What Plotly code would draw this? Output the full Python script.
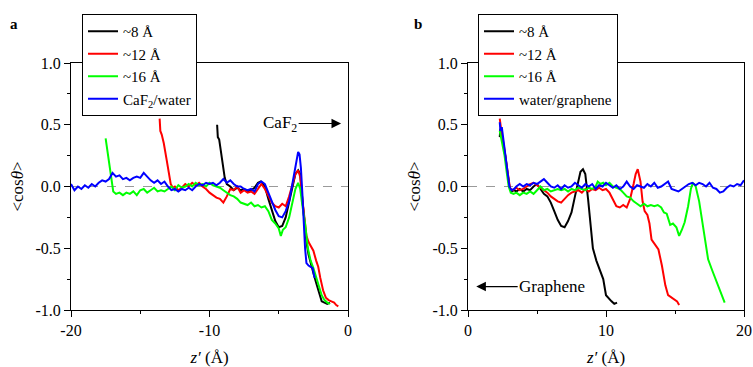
import plotly.graph_objects as go

# ---------------- Panel a (CaF2) ----------------
a_blue_x = [-20.0, -19.75, -19.5, -19.25, -19.0, -18.75, -18.5, -18.25, -18.0, -17.75, -17.5, -17.25, -17.0,
            -16.75, -16.5, -16.25, -16.0, -15.75, -15.5, -15.25, -15.0, -14.75, -14.5, -14.25, -14.0, -13.75,
            -13.5, -13.25, -13.0, -12.75, -12.5, -12.25, -12.0, -11.75, -11.5, -11.25, -11.0, -10.75, -10.5,
            -10.25, -10.0, -9.75, -9.5, -9.25, -9.0, -8.75, -8.5, -8.25, -8.0, -7.75, -7.5, -7.25, -7.0, -6.75,
            -6.5, -6.25, -6.0, -5.75, -5.5, -5.25, -5.0, -4.75, -4.5, -4.25, -4.05, -3.85, -3.7, -3.6, -3.5,
            -3.4, -3.3, -3.2, -3.1, -3.0, -2.85, -2.7, -2.55, -2.45, -2.4]
a_blue_y = [0.02, -0.03, 0.0, -0.02, 0.01, -0.01, 0.02, 0.0, 0.03, 0.05, 0.04, 0.06, 0.11,
            0.08, 0.09, 0.06, 0.07, 0.05, 0.07, 0.08, 0.07, 0.11, 0.08, 0.05, 0.03, 0.05,
            0.02, 0.04, 0.0, -0.03, -0.02, -0.04, -0.02, -0.03, -0.01, -0.03, 0.0, 0.02, 0.01,
            0.03, 0.02, 0.03, 0.01, 0.03, 0.06, 0.03, 0.05, 0.02, 0.0, 0.0, -0.02, -0.03, -0.02, -0.04,
            0.02, 0.04, 0.02, -0.05, -0.12, -0.19, -0.24, -0.25, -0.2, -0.12, 0.0, 0.12, 0.24, 0.28, 0.26,
            0.15, -0.05, -0.3, -0.5, -0.62, -0.64, -0.65, -0.66, -0.72, -0.74]

a_black_x = [-9.45, -9.45, -9.4, -9.3, -9.2, -9.1, -9.0, -8.9, -8.75, -8.5, -8.25, -8.0, -7.75, -7.5, -7.25,
             -7.0, -6.75, -6.5, -6.3, -6.0, -5.75, -5.5, -5.25, -5.0, -4.75, -4.5, -4.25, -4.0, -3.8, -3.6,
             -3.45, -3.3, -3.15, -3.0, -2.85, -2.7, -2.5, -2.3, -2.1, -1.9, -1.7, -1.5, -1.3]
a_black_y = [0.5, 0.45, 0.40, 0.38, 0.3, 0.22, 0.15, 0.07, 0.02, 0.0, -0.03, -0.01, -0.03, -0.02, -0.04,
             -0.03, -0.01, 0.03, 0.04, 0.0, -0.1, -0.2, -0.28, -0.33, -0.32, -0.25, -0.12, 0.0, 0.1, 0.13,
             0.1, -0.1, -0.3, -0.45, -0.55, -0.62, -0.7, -0.78, -0.86, -0.93, -0.94, -0.95, -0.94]

a_red_x = [-13.6, -13.55, -13.45, -13.3, -13.1, -12.95, -12.8, -12.65, -12.5, -12.25, -12.0, -11.75, -11.5,
           -11.25, -11.0, -10.75, -10.5, -10.25, -10.0, -9.75, -9.5, -9.25, -9.0, -8.75, -8.5, -8.25, -8.0,
           -7.75, -7.5, -7.25, -7.0, -6.75, -6.5, -6.25, -6.0, -5.75, -5.5, -5.25, -5.0, -4.75, -4.5, -4.25,
           -4.0, -3.8, -3.6, -3.45, -3.3, -3.15, -3.0, -2.85, -2.7, -2.5, -2.3, -2.15, -2.0, -1.8, -1.6, -1.4,
           -1.2, -1.0, -0.85, -0.7]
a_red_y = [0.55, 0.45, 0.42, 0.35, 0.22, 0.1, 0.02, -0.01, 0.0, -0.03, -0.01, 0.02, 0.0,
           0.03, 0.01, 0.03, 0.0, -0.02, -0.05, -0.07, -0.09, -0.1, -0.13, -0.08, -0.02, -0.03, 0.0,
           -0.05, -0.03, -0.05, -0.04, -0.06, -0.02, 0.02, -0.02, -0.08, -0.13, -0.16, -0.17, -0.14, -0.16, -0.08,
           0.02, 0.1, 0.13, 0.08, -0.1, -0.25, -0.4, -0.45, -0.48, -0.52, -0.6, -0.65, -0.74, -0.84, -0.9, -0.92,
           -0.93, -0.94, -0.96, -0.97]

a_green_x = [-17.5, -17.45, -17.35, -17.25, -17.15, -17.05, -16.95, -16.75, -16.5, -16.25, -16.0, -15.75,
             -15.5, -15.25, -15.0, -14.75, -14.5, -14.25, -14.0, -13.75, -13.5, -13.25, -13.0, -12.75, -12.5,
             -12.25, -12.0, -11.75, -11.5, -11.25, -11.0, -10.75, -10.5, -10.25, -10.0, -9.75, -9.5, -9.25,
             -9.0, -8.75, -8.5, -8.25, -8.0, -7.75, -7.5, -7.25, -7.0, -6.75, -6.5, -6.25, -6.0, -5.75, -5.5,
             -5.25, -5.0, -4.85, -4.7, -4.5, -4.25, -4.0, -3.8, -3.6, -3.45, -3.3, -3.1, -2.9, -2.7, -2.5, -2.3,
             -2.1, -1.9, -1.7, -1.5, -1.3]
a_green_y = [0.39, 0.35, 0.3, 0.2, 0.12, 0.02, -0.04, -0.06, -0.05, -0.07, -0.05, -0.06,
             -0.04, -0.07, -0.03, -0.02, -0.05, -0.03, -0.01, -0.04, -0.03, -0.04, -0.02, 0.0, -0.03,
             0.01, -0.01, 0.0, 0.02, 0.0, 0.03, 0.01, 0.02, 0.0, 0.03, 0.01, 0.0, -0.01,
             -0.03, -0.05, -0.07, -0.08, -0.1, -0.13, -0.14, -0.15, -0.13, -0.16, -0.15, -0.17, -0.16, -0.2, -0.27,
             -0.3, -0.34, -0.4, -0.35, -0.33, -0.25, -0.12, -0.02, 0.03, -0.02, -0.15, -0.3, -0.5, -0.6, -0.66, -0.74,
             -0.82, -0.88, -0.92, -0.94, -0.95]

# ---------------- Panel b (graphene) ----------------
b_black_x = [2.3, 2.35, 2.45, 2.55, 2.7, 2.85, 3.0, 3.15, 3.35, 3.5, 3.75, 4.0, 4.25, 4.5, 4.75, 5.0, 5.25,
             5.5, 5.75, 6.0, 6.25, 6.5, 6.75, 7.0, 7.25, 7.5, 7.75, 8.0, 8.15, 8.33, 8.5, 8.7, 8.85, 9.05, 9.3,
             9.55, 9.8, 10.0, 10.2, 10.4, 10.6, 10.8]
b_black_y = [0.4, 0.47, 0.4, 0.35, 0.25, 0.12, 0.0, -0.04, -0.03, -0.04, -0.02, -0.04, -0.02, -0.03, 0.0, 0.02, -0.02,
             -0.06, -0.08, -0.13, -0.2, -0.27, -0.32, -0.33, -0.28, -0.21, -0.08, 0.06, 0.12, 0.14, 0.1, -0.1, -0.3, -0.5, -0.6,
             -0.68, -0.75, -0.88, -0.91, -0.93, -0.95, -0.94]

b_red_x = [2.3, 2.35, 2.45, 2.6, 2.75, 2.9, 3.05, 3.25, 3.5, 3.75, 4.0, 4.25, 4.5, 4.75, 5.0, 5.25, 5.5,
           5.75, 6.0, 6.25, 6.5, 6.75, 7.0, 7.25, 7.5, 7.75, 8.0, 8.25, 8.5, 8.75, 9.0, 9.25, 9.5, 9.75,
           10.0, 10.25, 10.5, 10.75, 11.0, 11.25, 11.5, 11.75, 12.0, 12.15, 12.3, 12.5, 12.65, 12.8, 13.0,
           13.15, 13.3, 13.55, 13.8, 14.05, 14.3, 14.5, 14.75, 15.0, 15.15, 15.3]
b_red_y = [0.55, 0.5, 0.42, 0.33, 0.2, 0.08, -0.02, -0.03, -0.01, -0.03, -0.02, 0.0, 0.02, 0.03, 0.01, -0.01, -0.03,
           -0.05, -0.08, -0.1, -0.12, -0.13, -0.1, -0.07, -0.05, -0.04, -0.03, -0.05, -0.02, -0.04, -0.02, -0.03, -0.01, -0.03,
           -0.02, -0.05, -0.1, -0.16, -0.17, -0.15, -0.17, -0.1, 0.02, 0.1, 0.14, 0.04, -0.12, -0.2, -0.23,
           -0.3, -0.43, -0.47, -0.51, -0.64, -0.8, -0.88, -0.9, -0.92, -0.93, -0.96]

b_green_x = [2.3, 2.4, 2.5, 2.65, 2.8, 2.95, 3.1, 3.3, 3.5, 3.75, 4.0, 4.25, 4.5, 4.75, 5.0, 5.25, 5.5, 5.75,
             6.0, 6.25, 6.5, 6.75, 7.0, 7.25, 7.5, 7.75, 8.0, 8.25, 8.5, 8.75, 9.0, 9.25, 9.4, 9.6, 9.8, 10.0,
             10.25, 10.5, 10.75, 11.0, 11.25, 11.5, 11.75, 12.0, 12.25, 12.5, 12.75, 13.0, 13.25, 13.5, 13.75,
             14.0, 14.2, 14.4, 14.65, 14.85, 15.1, 15.3, 15.5, 15.7, 15.95, 16.15, 16.3, 16.5, 16.75, 17.0, 17.2,
             17.4, 17.7, 18.0, 18.25, 18.5, 18.6]
b_green_y = [0.45, 0.4, 0.35, 0.25, 0.12, 0.0, -0.05, -0.06, -0.05, -0.07, -0.05, -0.06, -0.04, -0.06, -0.03, 0.0, -0.03, -0.02,
             -0.04, -0.03, -0.02, -0.03, -0.02, -0.04, -0.02, -0.03, -0.01, -0.02, -0.03, -0.01, -0.02, 0.0, 0.04, 0.02, 0.03, 0.01,
             0.03, 0.0, -0.01, -0.02, -0.05, -0.08, -0.09, -0.12, -0.14, -0.16, -0.14, -0.16, -0.15, -0.16, -0.15,
             -0.17, -0.21, -0.22, -0.31, -0.3, -0.33, -0.4, -0.35, -0.29, -0.16, -0.02, 0.03, 0.0, -0.12, -0.29, -0.45,
             -0.59, -0.68, -0.77, -0.85, -0.91, -0.94]

b_blue_x = [2.3, 2.35, 2.45, 2.55, 2.7, 2.85, 3.0, 3.15, 3.35, 3.5, 3.75, 4.0, 4.25, 4.5, 4.75, 5.0, 5.25,
            5.5, 5.75, 6.0, 6.25, 6.5, 6.75, 7.0, 7.25, 7.5, 7.75, 8.0, 8.25, 8.5, 8.75, 9.0, 9.25, 9.5,
            9.75, 10.0, 10.25, 10.5, 10.75, 11.0, 11.25, 11.5, 11.75, 12.0, 12.25, 12.5, 12.75, 13.0, 13.25,
            13.5, 13.75, 14.0, 14.25, 14.5, 14.75, 15.0, 15.25, 15.5, 15.75, 16.0, 16.25, 16.5, 16.75, 17.0,
            17.25, 17.5, 17.75, 18.0, 18.25, 18.5, 18.75, 19.0, 19.25, 19.5, 19.75, 20.0]
b_blue_y = [0.52, 0.45, 0.48, 0.4, 0.28, 0.12, 0.0, -0.03, -0.02, 0.0, 0.02, 0.0, 0.02, 0.01, 0.03, 0.02, 0.04,
            0.06, 0.03, 0.0, -0.01, 0.01, -0.02, 0.01, -0.01, 0.0, 0.03, 0.01, -0.01, 0.02, 0.0, 0.02, -0.02, 0.01,
            0.0, 0.03, 0.01, -0.01, 0.01, -0.02, 0.0, 0.04, 0.0, -0.02, 0.01, 0.0, -0.01, 0.02, 0.0,
            0.03, -0.01, 0.0, 0.02, 0.04, -0.02, -0.03, -0.04, -0.02, 0.0, 0.02, 0.03, 0.01, 0.03, 0.02,
            0.0, 0.03, -0.01, -0.02, -0.05, -0.04, -0.01, 0.01, 0.0, 0.02, 0.01, 0.05]

legend_a = ["~8 Å", "~12 Å", "~16 Å", "CaF<sub>2</sub>/water"]
legend_b = ["~8 Å", "~12 Å", "~16 Å", "water/graphene"]
colors = ["#000000", "#ff0000", "#00ff00", "#0000ff"]

y_tickvals = [-1.0, -0.5, 0.0, 0.5, 1.0]
y_ticktext = ["-1.0", "-0.5", "0.0", "0.5", "1.0"]
xa_tickvals = [-20, -10, 0]
xa_ticktext = ["-20", "-10", "0"]
xb_tickvals = [0, 10, 20]
xb_ticktext = ["0", "10", "20"]

FONT = "Liberation Serif"
W, H = 753, 367

fig = go.Figure()

a_series = [(a_black_x, a_black_y), (a_red_x, a_red_y), (a_green_x, a_green_y), (a_blue_x, a_blue_y)]
b_series = [(b_black_x, b_black_y), (b_red_x, b_red_y), (b_green_x, b_green_y), (b_blue_x, b_blue_y)]

for (xs, ys), name, c in zip(a_series, legend_a, colors):
    fig.add_trace(go.Scatter(x=xs, y=ys, mode="lines", name=name, line=dict(color=c, width=2),
                             xaxis="x", yaxis="y", legend="legend"))
for (xs, ys), name, c in zip(b_series, legend_b, colors):
    fig.add_trace(go.Scatter(x=xs, y=ys, mode="lines", name=name, line=dict(color=c, width=2),
                             xaxis="x2", yaxis="y2", legend="legend2"))

def px_x(p):
    return p / W

def px_y(p):
    return 1 - p / H

common_axis = dict(showline=True, linecolor="black", linewidth=1, mirror=True, showgrid=False,
                   zeroline=False, ticks="outside", ticklen=6, tickwidth=1, tickcolor="black",
                   automargin=False,
                   tickfont=dict(family=FONT, size=16, color="black"))
minor_x = dict(dtick=5, ticklen=3, ticks="outside", tickcolor="black")
minor_y = dict(dtick=0.25, ticklen=3, ticks="outside", tickcolor="black")
xtitle = dict(text="<i>z′</i> (Å)", font=dict(family=FONT, size=17, color="black"), standoff=14)
ytitle = dict(text="&lt;cos<i>θ</i>&gt;", font=dict(family=FONT, size=17, color="black"), standoff=7)

legend_common = dict(xanchor="left", yanchor="top", bgcolor="white",
                     bordercolor="black", borderwidth=1, font=dict(family=FONT, size=15, color="black"),
                     itemwidth=30, tracegroupgap=0)

fig.update_layout(
    width=W, height=H, margin=dict(l=0, r=0, t=0, b=0, autoexpand=False),
    paper_bgcolor="white", plot_bgcolor="white",
    font=dict(family=FONT, color="black"),
    xaxis=dict(domain=[px_x(71), px_x(348)], range=[-20, 0], anchor="y",
               tickvals=xa_tickvals, ticktext=xa_ticktext, minor=minor_x, title=xtitle, **common_axis),
    yaxis=dict(domain=[px_y(310), px_y(63)], range=[-1, 1], anchor="x",
               tickvals=y_tickvals, ticktext=y_ticktext, minor=minor_y, title=ytitle, **common_axis),
    xaxis2=dict(domain=[px_x(468), px_x(744)], range=[0, 20], anchor="y2",
                tickvals=xb_tickvals, ticktext=xb_ticktext, minor=minor_x, title=xtitle, **common_axis),
    yaxis2=dict(domain=[px_y(310), px_y(63)], range=[-1, 1], anchor="x2",
                tickvals=y_tickvals, ticktext=y_ticktext, minor=minor_y, title=ytitle, **common_axis),
    legend=dict(x=px_x(82), y=px_y(14), **legend_common),
    legend2=dict(x=px_x(478), y=px_y(14), **legend_common),
    showlegend=True,
)

# dashed zero lines
for xr, yr in [("x domain", "y"), ("x2 domain", "y2")]:
    fig.add_shape(type="line", xref=xr, yref=yr, x0=0, x1=1, y0=0, y1=0,
                  line=dict(color="#9a9a9a", width=1.2, dash="dash"), layer="below")

# panel labels
fig.add_annotation(x=px_x(13.5), y=px_y(24), xref="paper", yref="paper", text="<b>a</b>",
                   xanchor="center", yanchor="middle",
                   showarrow=False, font=dict(family=FONT, size=15, color="black"))
fig.add_annotation(x=px_x(418), y=px_y(24), xref="paper", yref="paper", text="<b>b</b>",
                   xanchor="center", yanchor="middle",
                   showarrow=False, font=dict(family=FONT, size=15, color="black"))

# CaF2 label with arrow pointing right
fig.add_annotation(x=-0.5, y=0.51, ax=-4.9, ay=0.51, xref="x", yref="y", axref="x", ayref="y",
                   text="CaF<sub>2</sub>", showarrow=True, arrowhead=2, arrowsize=1.6, arrowwidth=1.2,
                   arrowcolor="black", standoff=0, font=dict(family=FONT, size=17, color="black"))
# Graphene label with arrow pointing left
fig.add_annotation(x=0.6, y=-0.81, ax=6.1, ay=-0.81, xref="x2", yref="y2", axref="x2", ayref="y2",
                   text="Graphene", showarrow=True, arrowhead=2, arrowsize=1.6, arrowwidth=1.2,
                   arrowcolor="black", standoff=0, font=dict(family=FONT, size=17, color="black"))

fig.write_html("out.html")
